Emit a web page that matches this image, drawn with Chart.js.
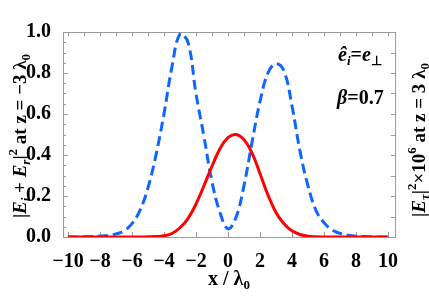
<!DOCTYPE html>
<html>
<head>
<meta charset="utf-8">
<script src="https://cdn.jsdelivr.net/npm/chart.js@4.4.0/dist/chart.umd.min.js"></script>
<style>
html, body { margin: 0; padding: 0; background: #fff; }
#wrap { width: 429px; height: 298px; }
</style>
</head>
<body>
<div id="wrap"><canvas id="fieldChart"></canvas></div>
<script>
// positions along x (in units of lambda_0)
const xPositions = [-10, -9.5, -9, -8.5, -8, -7.5, -7, -6.5, -6, -5.5, -5, -4.5, -4, -3.5, -3, -2.5, -2, -1.5, -1, -0.5,
  0, 0.5, 1, 1.5, 2, 2.5, 3, 3.5, 4, 4.5, 5, 5.5, 6, 6.5, 7, 7.5, 8, 8.5, 9, 9.5, 10];

// |Ei + Er|^2 at z = -3 lambda_0 (blue dashed)
const incidentReflected = [0, 0, 0.001, 0.002, 0.004, 0.007, 0.015, 0.03, 0.065, 0.13, 0.24, 0.40, 0.60, 0.83, 0.99, 0.95,
  0.70, 0.49, 0.27, 0.12, 0.04, 0.095, 0.25, 0.46, 0.66, 0.80, 0.845, 0.81, 0.64, 0.42, 0.25, 0.13, 0.07, 0.035,
  0.018, 0.009, 0.004, 0.002, 0.001, 0, 0];

// |E_tau|^2 x 10^6 at z = 3 lambda_0 (red solid)
const transmitted = [0, 0, 0, 0, 0, 0, 0, 0, 0, 0, 0.001, 0.002, 0.006, 0.017, 0.045, 0.09, 0.16, 0.25, 0.345, 0.43,
  0.485, 0.50, 0.475, 0.41, 0.31, 0.205, 0.12, 0.065, 0.03, 0.012, 0.004, 0.001, 0, 0, 0, 0, 0, 0, 0, 0, 0];

const xTickValues = [-10, -8, -6, -4, -2, 0, 2, 4, 6, 8, 10];
const yTickValues = [0, 0.2, 0.4, 0.6, 0.8, 1.0];

const SERIF = '"Liberation Serif", "Times New Roman", serif';
const BLUE = 'rgb(15, 102, 255)';
const RED = 'rgb(255, 0, 0)';

function toPoints(ys) {
  return xPositions.map((x, i) => ({ x: x, y: ys[i] }));
}

// draw a row of text pieces (sub/superscripts) centred or left aligned, optionally rotated
function drawRich(ctx, parts, px, py, angle, align, size) {
  let total = 0;
  parts.forEach(p => {
    ctx.font = (p.st || 'bold') + ' ' + (p.sz || size) + 'px ' + SERIF;
    p.w = ctx.measureText(p.t).width;
    total += p.w;
  });
  ctx.save();
  ctx.translate(px, py);
  ctx.rotate(angle || 0);
  ctx.fillStyle = '#000';
  ctx.textBaseline = 'alphabetic';
  ctx.textAlign = 'left';
  let x = align === 'left' ? 0 : -total / 2;
  parts.forEach(p => {
    ctx.font = (p.st || 'bold') + ' ' + (p.sz || size) + 'px ' + SERIF;
    ctx.fillText(p.t, x, p.dy || 0);
    x += p.w;
  });
  ctx.restore();
}

const framePlugin = {
  id: 'frame',
  beforeDatasetsDraw(chart) {
    const { ctx, chartArea: a, scales } = chart;
    const xs = scales.x, ys = scales.y;
    ctx.save();
    ctx.strokeStyle = '#9a9a9a';
    ctx.lineWidth = 1;
    ctx.strokeRect(Math.round(a.left) + 0.5, Math.round(a.top) + 0.5,
      Math.round(a.right - a.left), Math.round(a.bottom - a.top));
    ctx.beginPath();
    for (let v = -10; v <= 10; v += 1) {
      const p = Math.round(xs.getPixelForValue(v)) + 0.5;
      ctx.moveTo(p, a.top); ctx.lineTo(p, a.top + 4);
      if (v % 2 === 0) { ctx.moveTo(p, a.bottom); ctx.lineTo(p, a.bottom - 5); }
    }
    for (let k = 0; k <= 20; k++) {
      const p = Math.round(ys.getPixelForValue(k * 0.05)) + 0.5;
      ctx.moveTo(a.left, p); ctx.lineTo(a.left + (k % 4 === 0 ? 5 : 3), p);
      if (k % 2 === 0) { ctx.moveTo(a.right, p); ctx.lineTo(a.right - 4, p); }
    }
    ctx.stroke();
    ctx.restore();
  },
  afterDraw(chart) {
    const { ctx } = chart;
    const sub = { sz: 13, dy: 4 };
    const sup = { sz: 13, dy: -9 };
    drawRich(ctx, [
      { t: '|' }, { t: 'E', st: 'italic bold' }, Object.assign({ t: 'i', st: 'italic bold' }, sub),
      { t: ' + ' }, { t: 'E', st: 'italic bold' }, Object.assign({ t: 'r', st: 'italic bold' }, sub),
      { t: '|' }, Object.assign({ t: '2' }, sup), { t: ' at z = \u22123 \u03bb' }, Object.assign({ t: '0' }, sub)
    ], 26, 136, -Math.PI / 2, 'center', 19);
    drawRich(ctx, [
      { t: '|' }, { t: 'E', st: 'italic bold' }, Object.assign({ t: '\u03c4', st: 'italic bold' }, sub),
      { t: '|' }, Object.assign({ t: '2' }, sup), { t: '\u00d710' }, Object.assign({ t: '6' }, sup),
      { t: ' at z = 3 \u03bb' }, Object.assign({ t: '0' }, sub)
    ], 425, 140, -Math.PI / 2, 'center', 19);
    drawRich(ctx, [{ t: 'x / \u03bb' }, Object.assign({ t: '0' }, sub)], 229, 285, 0, 'center', 20);
    drawRich(ctx, [
      { t: '\u00ea', st: 'italic bold' }, Object.assign({ t: 'i', st: 'italic bold' }, sub),
      { t: '=' }, { t: 'e', st: 'italic bold' }, Object.assign({ t: '\u22a5' }, sub)
    ], 338, 61, 0, 'left', 20);
    drawRich(ctx, [{ t: '\u03b2', st: 'italic bold' }, { t: '=0.7' }], 337, 104, 0, 'left', 20);
  }
};

const ctx = document.getElementById('fieldChart').getContext('2d');
const fieldChart = new Chart(ctx, {
  type: 'line',
  data: {
    datasets: [{
      label: '|E_tau|^2 x 10^6 at z = 3',
      data: toPoints(transmitted),
      borderColor: RED,
      borderWidth: 3,
      pointRadius: 0,
      tension: 0.4,
      fill: false
    }, {
      label: '|Ei + Er|^2 at z = -3',
      data: toPoints(incidentReflected),
      borderColor: BLUE,
      borderWidth: 3,
      borderDash: [10, 5],
      pointRadius: 0,
      tension: 0.4,
      fill: false
    }]
  },
  options: {
    responsive: true,
    maintainAspectRatio: false,
    animation: false,
    layout: { padding: { top: 32, right: 34, left: 0, bottom: 0 } },
    plugins: { legend: { display: false }, tooltip: { enabled: false } },
    scales: {
      x: {
        type: 'linear',
        min: -10.31,
        max: 10.44,
        grid: { display: false },
        border: { display: false },
        afterBuildTicks: s => { s.ticks = xTickValues.map(v => ({ value: v })); },
        afterFit: s => { s.height = 61; },
        ticks: {
          padding: 5,
          color: '#000',
          maxRotation: 0,
          autoSkip: false,
          font: { family: SERIF, size: 20, weight: 'bold' },
          callback: v => (v < 0 ? '\u2212' + Math.abs(v) : String(v))
        }
      },
      y: {
        min: 0,
        max: 1,
        grid: { display: false },
        border: { display: false },
        afterBuildTicks: s => { s.ticks = yTickValues.map(v => ({ value: v })); },
        afterFit: s => { s.width = 63; },
        ticks: {
          padding: 4,
          color: '#000',
          autoSkip: false,
          font: { family: SERIF, size: 20, weight: 'bold' },
          callback: v => Number(v).toFixed(1)
        }
      }
    }
  },
  plugins: [framePlugin]
});
</script>
</body>
</html>
